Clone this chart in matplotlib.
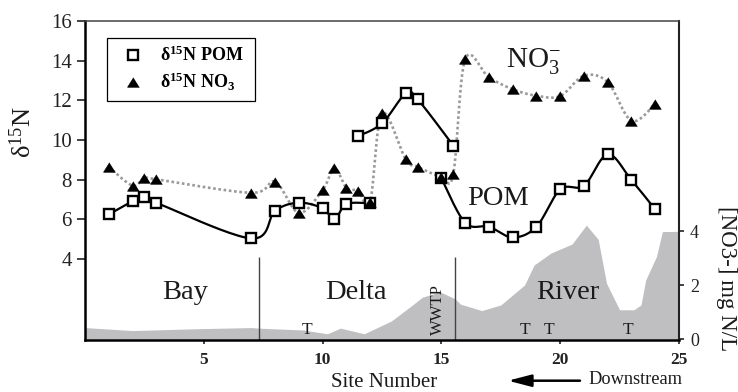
import numpy as np
import matplotlib
matplotlib.use('Agg')
import matplotlib.pyplot as plt
from matplotlib.lines import Line2D
from matplotlib.patches import FancyArrowPatch

plt.rcParams['font.family'] = 'Liberation Serif'
plt.rcParams['mathtext.fontset'] = 'custom'
plt.rcParams['mathtext.rm'] = 'Liberation Serif'
plt.rcParams['mathtext.it'] = 'Liberation Serif:italic'
plt.rcParams['mathtext.bf'] = 'Liberation Serif:bold'

# ---- d15N of particulate organic matter (three survey runs) ----
pom_x = [1, 2, 2.5, 3, 7, 8, 9, 10, 10.5, 11, 12,
         11.5, 12.5, 13.5, 14, 15.5,
         15, 16, 17, 18, 19, 20, 21, 22, 23, 24]
pom_y = [6.25, 6.92, 7.14, 6.84, 5.04, 6.43, 6.84, 6.56, 6.0, 6.77, 6.81,
         10.2, 10.84, 12.35, 12.05, 9.72,
         8.07, 5.83, 5.63, 5.09, 5.63, 7.51, 7.70, 9.28, 7.98, 6.5]
pom_breaks = [11, 16]

# ---- d15N of nitrate ----
no3_x = [1, 2, 2.5, 3, 7, 8, 9, 10, 10.5, 11, 11.5, 12, 12.5, 13.5, 14,
         15, 15.5, 16, 17, 18, 19, 20, 21, 22, 23, 24]
no3_y = [8.65, 7.7, 8.1, 8.02, 7.34, 7.9, 6.33, 7.48, 8.57, 7.6, 7.43, 6.89,
         11.35, 9.03, 8.65, 8.15, 8.29, 14.07, 13.16, 12.56, 12.23, 12.22,
         13.24, 12.92, 10.97, 11.82]

# ---- nitrate concentration (mg N/L) along the transect ----
conc_x = [0, 2, 4.8, 7, 7.3, 9.2, 10.2, 10.75, 11.75, 12.4, 12.9, 13.8, 14.2,
          14.95, 15.57, 15.8, 16.7, 17.5, 18.5, 18.9, 19.6, 20.5, 21.1, 21.6,
          21.95, 22.5, 23.1, 23.4, 23.6, 24.05, 24.3, 25]
conc_y = [0.43, 0.32, 0.39, 0.43, 0.41, 0.34, 0.2, 0.41, 0.2, 0.47, 0.68, 1.28,
          1.56, 1.75, 1.5, 1.3, 1.06, 1.27, 2.01, 2.75, 3.19, 3.53, 4.23, 3.7,
          2.07, 1.09, 1.09, 1.27, 2.2, 3.06, 3.99, 4.0]

regions = ['Bay', 'Delta', 'River']
region_x = [4.2, 11.39, 20.33]
region_bounds = [7.33, 15.57]
trib_x = [9.35, 18.5, 19.51, 22.86]


def smooth(xs, ys, n=24):
    # Bezier smoothing through the points (same idea as spreadsheet "smoothed line")
    p = np.column_stack([xs, ys]).astype(float)
    pts = np.vstack([p[0], p, p[-1]])
    t = np.linspace(0, 1, n)[:, None]
    out = []
    for i in range(1, len(pts) - 2):
        p0, p1, p2, p3 = pts[i - 1], pts[i], pts[i + 1], pts[i + 2]
        c1 = p1 + (p2 - p0) / 6
        c2 = p2 - (p3 - p1) / 6
        seg = (1 - t)**3 * p1 + 3 * (1 - t)**2 * t * c1 + 3 * (1 - t) * t**2 * c2 + t**3 * p2
        out.append(seg if i == 1 else seg[1:])
    out = np.vstack(out)
    return out[:, 0], out[:, 1]


fig = plt.figure(figsize=(7.38, 3.92), dpi=100)
ax = fig.add_axes([85 / 738, 1 - 340 / 392, 594 / 738, 319 / 392])
ax2 = ax.twinx()
ax.set_zorder(ax2.get_zorder() + 1)
ax.patch.set_visible(False)

# nitrate concentration as grey area on the right axis
ax2.fill_between(conc_x, conc_y, 0, color='#bfbfc1', lw=0)
ax2.set_ylim(-0.03, 11.8)
ax2.set_yticks([0, 2, 4])
ax2.tick_params(axis='y', direction='out', length=3.4, width=1.2, pad=4.5,
                labelsize=13, colors='#222222')
for s in ['left', 'top', 'bottom']:
    ax2.spines[s].set_visible(False)
ax2.spines['right'].set_linewidth(1.5)
ax2.spines['right'].set_color('#222222')

tri = [(0, 0.8), (-1, -0.8), (1, -0.8)]

# nitrate d15N, dotted grey
sx, sy = smooth(no3_x, no3_y)
ax.plot(sx, sy, color='#9a9a9a', lw=1.9, ls=(0, (1, 1)), zorder=3)
ax.plot(no3_x, no3_y, ls='none', marker=tri, ms=8.6, mfc='black', mec='black',
        mew=0.4, zorder=5)

# POM d15N, solid black in runs
starts = [0] + pom_breaks
ends = pom_breaks + [len(pom_x)]
for k, (a, b) in enumerate(zip(starts, ends)):
    z = 6 if k == 1 else 4
    sx, sy = smooth(pom_x[a:b], pom_y[a:b])
    ax.plot(sx, sy, color='black', lw=1.6, zorder=z)
    ax.plot(pom_x[a:b], pom_y[a:b], ls='none', marker='s', ms=7.3, mfc='white',
            mec='black', mew=1.7, zorder=z)

ax.set_xlim(0, 25)
ax.set_ylim(-0.08, 16)
ax.set_xticks([5, 10, 15, 20, 25])
ax.set_yticks([4, 6, 8, 10, 12, 14, 16])
ax.tick_params(axis='y', direction='out', length=5.5, width=1.2, pad=4,
               labelsize=15, colors='#222222', right=False)
ax.tick_params(axis='x', direction='out', length=3, width=1.2, pad=6,
               labelsize=12.5, colors='#222222')
for lab in ax.get_xticklabels():
    lab.set_fontweight('bold')
ax.spines['right'].set_visible(False)
ax.spines['left'].set_linewidth(1.8)
ax.spines['bottom'].set_linewidth(1.8)
ax.spines['top'].set_linewidth(1.1)
ax.spines['top'].set_color('#444444')

# region dividers and names
ax.vlines(region_bounds, -0.08, 4.1, color='#444444', lw=1)
base = ax.get_xaxis_transform()
for name, x in zip(regions, region_x):
    ax.text(x, 0.13, name, transform=base, ha='center', va='baseline',
            fontsize=20.5, color='#1a1a1a')
for x in trib_x:
    ax.text(x, 0.019, 'T', transform=base, ha='center', va='baseline',
            fontsize=12.5, color='#1a1a1a')
ax.text(14.86, 0.094, 'WWTP', transform=base, rotation=90, ha='center',
        va='center', fontsize=12, color='#1a1a1a')
ax.text(17.39, 0.423, 'POM', transform=base, ha='center', va='baseline',
        fontsize=20.5, color='#1a1a1a')
ax.text(17.71, 0.857, r'NO$_3^{-}$', transform=base, ha='left', va='baseline',
        fontsize=21, color='#1a1a1a')

# legend
handles = [
    Line2D([], [], ls='none', marker='s', ms=7.3, mfc='white', mec='black', mew=1.7),
    Line2D([], [], ls='none', marker=tri, ms=8.6, mfc='black', mec='black', mew=0.4),
]
labels = [r'δ$^{\mathbf{15}}$N POM', r'δ$^{\mathbf{15}}$N NO$_{\mathbf{3}}$']
leg = ax.legend(handles, labels, loc='upper left',
                bbox_to_anchor=(0.037, 0.746, 0.249, 0.201), mode='expand',
                borderaxespad=0, frameon=True, fancybox=False, framealpha=1,
                edgecolor='black', handlelength=2.0, handletextpad=0.5,
                borderpad=0.45, labelspacing=0.3,
                prop={'size': 13, 'weight': 'bold', 'family': 'Liberation Serif'})
leg.get_frame().set_linewidth(0.9)

# axis titles
fig.text(22.5 / 738, 1 - 131.7 / 392, r'δ$^{15}$N', rotation=90, ha='center',
         va='center', fontsize=19, color='#1a1a1a')
fig.text(726.7 / 738, 1 - 279 / 392, '[NO3-] mg N/L', rotation=270, ha='center',
         va='center', fontsize=16.5, color='#1a1a1a')
fig.text(384 / 738, 1 - 386.7 / 392, 'Site Number', ha='center', va='baseline',
         fontsize=15, color='#1a1a1a')
fig.text(588 / 738, 1 - 384.5 / 392, 'Downstream', ha='left', va='baseline',
         fontsize=13.2, color='#1a1a1a')
arrow = FancyArrowPatch((580 / 738, 1 - 380.7 / 392), (508 / 738, 1 - 380.7 / 392),
                        transform=fig.transFigure, arrowstyle='-|>,head_length=1.0,head_width=0.26',
                        mutation_scale=14, lw=1.8, color='black', shrinkA=0, shrinkB=0)
fig.add_artist(arrow)

fig.savefig('out.png', dpi=100)
